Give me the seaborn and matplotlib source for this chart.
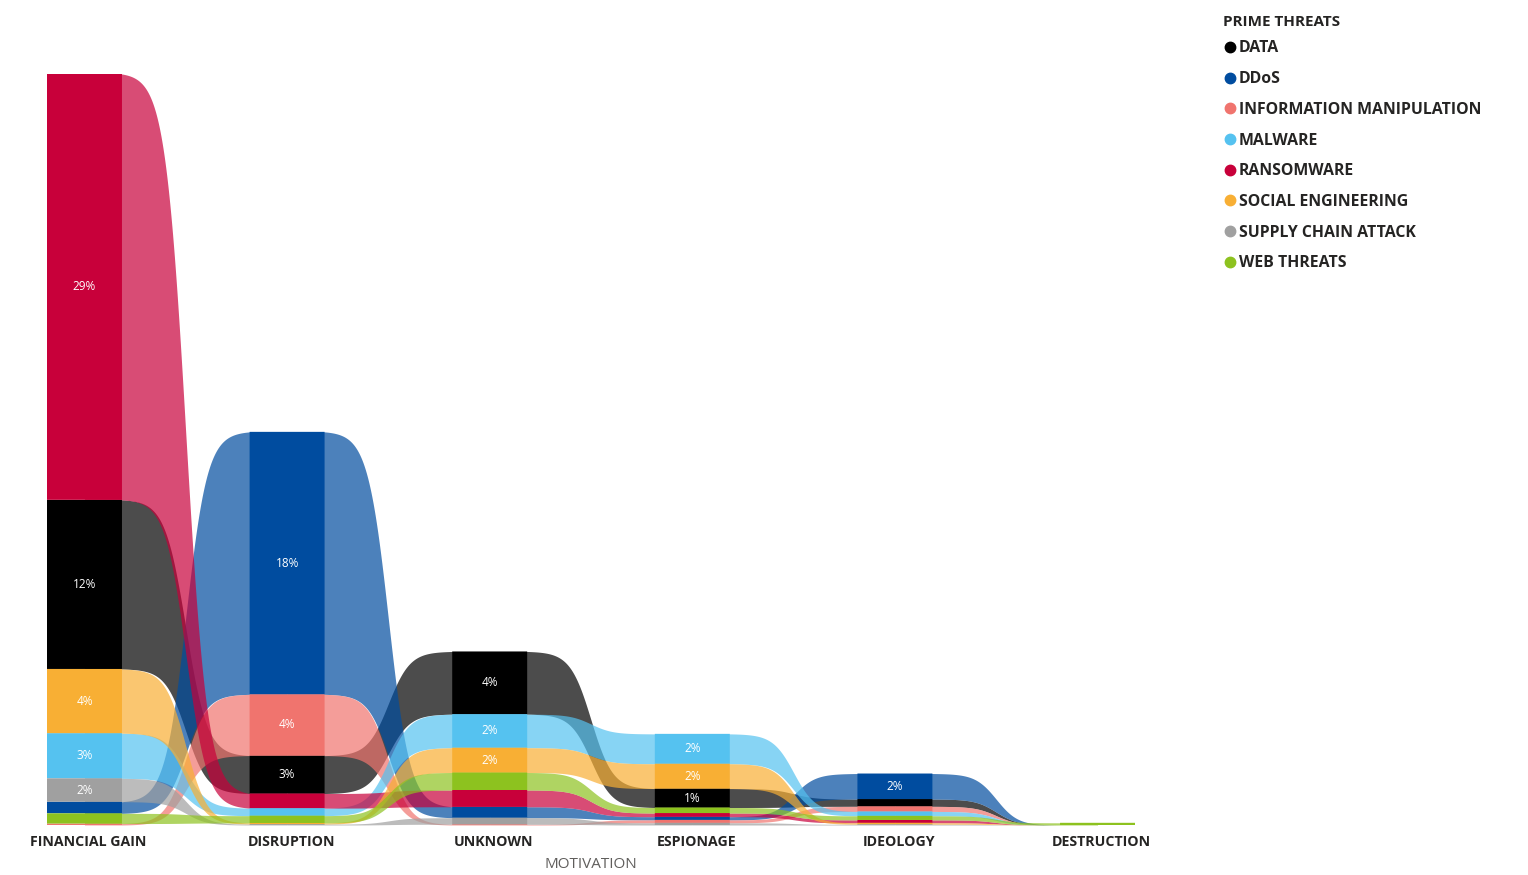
import numpy as np
import matplotlib
matplotlib.use("Agg")
import matplotlib.pyplot as plt
import matplotlib.transforms as mtransforms
from matplotlib.lines import Line2D
import seaborn as sns

motivations = ["FINANCIAL GAIN", "DISRUPTION", "UNKNOWN", "ESPIONAGE", "IDEOLOGY", "DESTRUCTION"]
threats = ["DATA", "DDoS", "INFORMATION MANIPULATION", "MALWARE", "RANSOMWARE",
           "SOCIAL ENGINEERING", "SUPPLY CHAIN ATTACK", "WEB THREATS"]
threat_colors = ["#000000", "#004C9F", "#F0746E", "#55C2F0", "#C8003A",
                 "#F8AF34", "#A0A0A0", "#8DC21F"]

# share of incidents (%) for each motivation, one list per prime threat
data_pct = [11.6, 2.6, 4.3, 1.3, 0.5, 0.0]
ddos_pct = [0.8, 18.0, 0.75, 0.22, 1.75, 0.0]
info_pct = [0.1, 4.2, 0.05, 0.2, 0.35, 0.0]
malware_pct = [3.1, 0.52, 2.3, 2.05, 0.3, 0.0]
ransomware_pct = [29.2, 1.0, 1.15, 0.25, 0.2, 0.0]
social_pct = [4.4, 0.08, 1.7, 1.7, 0.1, 0.0]
supply_pct = [1.6, 0.06, 0.45, 0.15, 0.05, 0.0]
web_pct = [0.7, 0.5, 1.2, 0.38, 0.28, 0.15]

values = np.array([data_pct, ddos_pct, info_pct, malware_pct, ransomware_pct,
                   social_pct, supply_pct, web_pct])  # shape: threats x motivations

sns.set_theme(style="white")
plt.rcParams["font.family"] = ["Open Sans", "DejaVu Sans"]

n_t, n_m = values.shape
half_w = 0.185
label_min = 1.25

# stack each column with the largest share on top
bottoms = np.zeros_like(values)
for j in range(n_m):
    order = sorted(range(n_t), key=lambda k: values[k, j])
    acc = 0.0
    for k in order:
        bottoms[k, j] = acc
        acc += values[k, j]
tops = bottoms + values


def ease(u, s=6.0):
    u = np.clip(u, 0.0, 1.0)
    raw = np.tanh(s * (u - 0.5))
    lo, hi = np.tanh(-s / 2), np.tanh(s / 2)
    return (raw - lo) / (hi - lo)


fig = plt.figure(figsize=(15.28, 8.75), dpi=100)
ax = fig.add_axes([47 / 1528, 1 - 825 / 875, (1135 - 47) / 1528, (825 - 74) / 875])

# ribbons linking each threat between neighbouring columns
for k in range(n_t):
    for j in range(n_m - 1):
        x0, x1 = j + half_w, j + 1 - half_w
        xs = np.linspace(j, j + 1, 300)
        f = ease((xs - x0) / (x1 - x0))
        lo = bottoms[k, j] + (bottoms[k, j + 1] - bottoms[k, j]) * f
        hi = tops[k, j] + (tops[k, j + 1] - tops[k, j]) * f
        ax.fill_between(xs, lo, hi, color=threat_colors[k], alpha=0.7, lw=0)

# solid column segments with value labels
for k in range(n_t):
    for j in range(n_m):
        v = values[k, j]
        if v <= 0:
            continue
        ax.bar(j, v, bottom=bottoms[k, j], width=2 * half_w,
               color=threat_colors[k], linewidth=0, zorder=3, snap=False)
        if v >= label_min:
            ax.text(j, bottoms[k, j] + v / 2, f"{v:.0f}%", ha="center", va="center",
                    color="white", fontsize=8.5, zorder=4)

ax.set_xlim(-half_w, n_m - 1 + half_w)
ax.set_ylim(0, values.sum(axis=0).max())
ax.set_xticks(range(n_m))
ax.set_xticklabels(motivations, fontweight="bold", fontsize=10.2, color="#252423")
ax.tick_params(axis="x", length=0, pad=7)
shift = mtransforms.ScaledTranslation(4 / 100, 0, fig.dpi_scale_trans)
for lbl in ax.get_xticklabels():
    lbl.set_transform(lbl.get_transform() + shift)
ax.set_yticks([])
ax.set_xlabel("MOTIVATION", fontsize=11, color="#605E5C", labelpad=6)
sns.despine(ax=ax, left=True, bottom=True)

# legend: heading plus one dot per prime threat
fig.text(1223 / 1528, 1 - 22 / 875, "PRIME THREATS", ha="left", va="center",
         fontsize=11, fontweight="bold", color="#252423")
handles = [Line2D([], [], marker="o", linestyle="", color=c, markersize=7.5)
           for c in threat_colors]
leg = fig.legend(handles, threats, loc="upper left",
                 bbox_to_anchor=(1218 / 1528, 1 - 34 / 875), frameon=False,
                 prop={"weight": "bold", "size": 11.4},
                 handlelength=0.7, handletextpad=0.2, labelspacing=0.93,
                 borderaxespad=0, alignment="left")
for t in leg.get_texts():
    t.set_color("#252423")

fig.savefig("out.png", dpi=100, facecolor="white")
